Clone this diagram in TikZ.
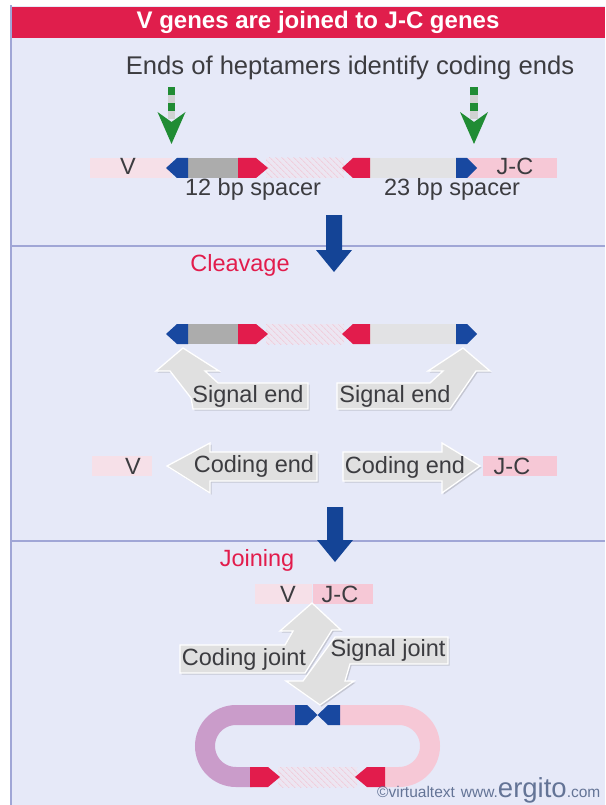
\documentclass[tikz,border=0pt]{standalone}
\usepackage{fontspec}
\setmainfont{Liberation Sans}
\usetikzlibrary{patterns.meta}

\definecolor{paper}{RGB}{230,233,248}
\definecolor{rulecol}{RGB}{160,166,214}
\definecolor{banner}{RGB}{224,30,76}
\definecolor{ink}{RGB}{60,60,64}
\definecolor{heptred}{RGB}{226,28,76}
\definecolor{heptblue}{RGB}{24,72,160}
\definecolor{flowblue}{RGB}{20,68,150}
\definecolor{spacerdark}{RGB}{172,172,172}
\definecolor{spacerlight}{RGB}{226,226,228}
\definecolor{vpink}{RGB}{246,224,232}
\definecolor{jcpink}{RGB}{246,200,214}
\definecolor{ringpurple}{RGB}{202,156,202}
\definecolor{hatchbase}{RGB}{236,230,242}
\definecolor{hatchline}{RGB}{240,206,220}
\definecolor{cutgreen}{RGB}{32,140,52}
\definecolor{cutgray}{RGB}{208,210,210}
\definecolor{calloutfill}{RGB}{224,224,224}
\definecolor{calloutshade}{RGB}{196,198,210}
\definecolor{credit}{RGB}{100,116,150}

% heptamer block: colour, back x, shoulder x, tip x, centre y
\newcommand{\heptamer}[5]{\fill[#1] (#2,#5-10) -- (#3,#5-10) -- (#4,#5) -- (#3,#5+10) -- (#2,#5+10) -- cycle;}
% hatched stretch of DNA between two heptamers: x from, x to, centre y
\newcommand{\hatchbar}[3]{%
  \fill[hatchbase] (#1,#3-10) rectangle (#2,#3+10);
  \fill[pattern={Lines[angle=-45,distance=4pt,line width=0.9pt]},pattern color=hatchline] (#1,#3-10) rectangle (#2,#3+10);}
% green cut marker, centre x
\newcommand{\cutmark}[1]{%
  \fill[cutgreen] (#1-3.8,87) rectangle (#1+3.8,95);
  \fill[cutgray] (#1-3.8,95) rectangle (#1+3.8,103);
  \fill[cutgreen] (#1-3.8,103) rectangle (#1+3.8,111);
  \fill[cutgray] (#1-3.8,111) rectangle (#1+3.8,119);
  \fill[cutgreen] (#1-14,112) -- (#1,122) -- (#1+14,112) -- (#1,144) -- cycle;}
% grey label arrow with a soft shadow: outline path
\newcommand{\calloutshape}[1]{%
  \begin{scope}[shift={(1.6,1.6)}]\fill[calloutshade] #1;\end{scope}
  \draw[callout] #1;}

\tikzset{
  lbl/.style={font=\fontsize{23.5}{28}\selectfont, text=ink, inner sep=0pt},
  steplbl/.style={lbl, text=heptred},
  callout/.style={fill=calloutfill, draw=white, line width=1.3pt, line join=miter},
  flowarrow/.style={fill=flowblue},
}

\begin{document}
\begin{tikzpicture}[x=1pt,y=-1pt]
\useasboundingbox (0,0) rectangle (605,805);

% page, frame and banner
\fill[white] (0,0) rectangle (605,805);
\fill[paper] (12,6) rectangle (605,805);
\fill[rulecol] (9.5,5) rectangle (12,805);
\fill[banner] (12,7) rectangle (605,38);
\node[font=\bfseries\fontsize{24}{28}\selectfont, text=white, inner sep=0pt] (title) at (318,22) {V genes are joined to J-C genes};

% section rules
\draw[rulecol, line width=1.8pt] (12,246) -- (605,246);
\draw[rulecol, line width=1.8pt] (12,541) -- (605,541);

% ---- germline arrangement ----
\node[lbl, font=\fontsize{25.6}{30}\selectfont] (heading) at (350,68) {Ends of heptamers identify coding ends};
\cutmark{171.5}
\cutmark{474}

\fill[vpink] (90,158) rectangle (172,178);
\fill[jcpink] (466,158) rectangle (557,178);
\fill[spacerdark] (186,158) rectangle (240,178);
\hatchbar{266}{344}{168}
\fill[spacerlight] (368,158) rectangle (458,178);
\heptamer{heptblue}{188}{177}{166}{168}
\heptamer{heptred}{238}{256}{268}{168}
\heptamer{heptred}{370}{353}{342}{168}
\heptamer{heptblue}{456}{467}{477}{168}
\node[lbl] (v1) at (128,166) {V};
\node[lbl] (jc1) at (515,166) {J-C};
\node[lbl] (sp12) at (253,189) {12 bp spacer};
\node[lbl] (sp23) at (452,189) {23 bp spacer};

\fill[flowarrow] (326,215) -- (342,215) -- (342,250) -- (352,250) -- (334,272) -- (316,250) -- (326,250) -- cycle;

% ---- cleavage ----
\node[steplbl] (cleave) at (240,265) {Cleavage};

\fill[spacerdark] (186,324) rectangle (240,344);
\hatchbar{266}{344}{334}
\fill[spacerlight] (368,324) rectangle (458,344);
\heptamer{heptblue}{188}{177}{166}{334}
\heptamer{heptred}{238}{256}{268}{334}
\heptamer{heptred}{370}{353}{342}{334}
\heptamer{heptblue}{456}{467}{477}{334}

\calloutshape{(183,348) -- (219,371) -- (205,371) -- (218,383) -- (308,383) -- (308,409)
  -- (193,409) -- (191,398) -- (170,371) -- (156,371) -- cycle}
\calloutshape{(463,348) -- (490,371) -- (476,371) -- (450,409) -- (337,409) -- (337,383)
  -- (430,383) -- (443,371) -- (428,371) -- cycle}
\node[lbl] (sig1) at (248,396) {Signal end};
\node[lbl] (sig2) at (395,396) {Signal end};

\fill[vpink] (92,456) rectangle (152,476);
\fill[jcpink] (483,456) rectangle (557,476);
\node[lbl] (v2) at (133,466) {V};
\node[lbl] (jc2) at (512,466) {J-C};
\calloutshape{(167,466) -- (210,443) -- (210,452) -- (317,452) -- (317,481) -- (210,481) -- (210,493) -- cycle}
\calloutshape{(480,466) -- (442,443) -- (442,452) -- (343,452) -- (343,481) -- (442,481) -- (442,493) -- cycle}
\node[lbl] (cod1) at (254,466) {Coding end};
\node[lbl] (cod2) at (405,467) {Coding end};

\fill[flowarrow] (327,507) -- (343,507) -- (343,540) -- (353,540) -- (335,562) -- (317,540) -- (327,540) -- cycle;

% ---- joining ----
\node[steplbl] (join) at (257,560) {Joining};
\fill[vpink] (255,584) rectangle (312,604);
\fill[jcpink] (313,584) rectangle (373,604);
\node[lbl] (v3) at (288,594) {V};
\node[lbl] (jc3) at (340,594) {J-C};

\calloutshape{(312,603) -- (341,630) -- (332,630) -- (305,673) -- (180,673) -- (180,645)
  -- (285,645) -- (293,631) -- (280,631) -- cycle}
\calloutshape{(335,637) -- (448,637) -- (448,664) -- (350,664) -- (345,681) -- (354,681)
  -- (320,705) -- (286,681) -- (303,681) -- cycle}
\node[lbl] (cj) at (244,659) {Coding joint};
\node[lbl] (sj) at (388,650) {Signal joint};

% circular excision product
\draw[ringpurple, line width=20pt] (297,715) -- (236,715) arc[start angle=-90, end angle=-270, radius=31] -- (252,777);
\draw[jcpink, line width=20pt] (338,715) -- (399,715) arc[start angle=-90, end angle=90, radius=31] -- (383,777);
\hatchbar{278}{357}{777}
\heptamer{heptred}{250}{268}{280}{777}
\heptamer{heptred}{385}{367}{355}{777}
\fill[heptblue] (295,705) -- (307,705) -- (317.5,715) -- (328,705) -- (340,705) -- (340,725)
  -- (328,725) -- (317.5,715) -- (307,725) -- (295,725) -- cycle;

\node[anchor=base west, inner sep=0pt, text=credit] (credit) at (377,797)
  {\fontsize{15.5}{18}\selectfont\textcopyright virtualtext\hspace{6pt}www.\fontsize{27.5}{30}\selectfont ergito\fontsize{15.5}{18}\selectfont .com};
\end{tikzpicture}
\end{document}
